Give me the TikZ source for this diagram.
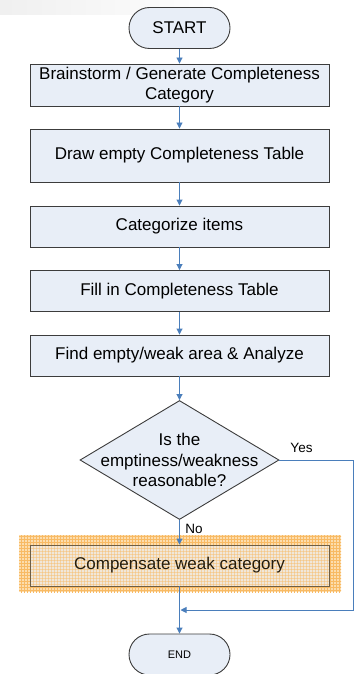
\documentclass[tikz,border=0pt]{standalone}
\usepackage{fontspec}
\setmainfont{Liberation Sans}
\usetikzlibrary{shapes.misc,shapes.geometric,arrows.meta,patterns}
\definecolor{boxfill}{HTML}{E8EEF7}
\definecolor{boxline}{HTML}{3C3C3C}
\definecolor{flow}{HTML}{4A7EBB}
\definecolor{hlfill}{HTML}{FCDDAE}
\definecolor{hlgrid}{HTML}{F8BA64}
\definecolor{hltext}{HTML}{241C0C}
\definecolor{hlline}{HTML}{6E5E44}
\tikzset{
  base/.style={draw=boxline, fill=boxfill, line width=0.9pt, align=center,
    font=\fontsize{17}{20}\selectfont, inner sep=0pt},
  stepbox/.style={base, rectangle, minimum width=299pt},
  term/.style={base, rounded rectangle, minimum width=101pt, minimum height=41pt},
  decision/.style={base, diamond, minimum width=199pt, minimum height=119pt},
  flowline/.style={draw=flow, line width=0.9pt, -{Triangle[length=6pt,width=6pt]}},
  edgelabel/.style={font=\fontsize{13.5}{16}\selectfont, inner sep=0pt},
  gridwash/.style={path picture={
    \fill[pattern=grid, pattern color=hlgrid, opacity=0.45]
      (path picture bounding box.south west) rectangle (path picture bounding box.north east);}},
}
\begin{document}
\begin{tikzpicture}[x=1pt, y=-1pt]
\useasboundingbox (0,0) rectangle (357,674);
% faint band along the top edge
\shade[left color=black!6, right color=white, shading angle=90] (0,0) rectangle (225,15);

% highlighted area behind the last step
\fill[hlfill] (19,535) rectangle (341,592);
\fill[pattern=grid, pattern color=hlgrid] (19,535) rectangle (341,592);

\node[term] (start) at (179.5,28) {START};
\node[stepbox, minimum height=42pt] (b1) at (179.5,85) {Brainstorm / Generate Completeness\\Category};
\node[stepbox, minimum height=53pt] (b2) at (179.5,155.5) {Draw empty Completeness Table};
\node[stepbox, minimum height=41pt] (b3) at (179.5,226.5) {Categorize items};
\node[stepbox, minimum height=41pt] (b4) at (179.5,291) {Fill in Completeness Table};
\node[stepbox, minimum height=41pt] (b5) at (179.5,355.5) {Find empty/weak area \& Analyze};
\node[decision] (dec) at (179.5,460) {};
\node[align=center, font=\fontsize{17}{20.5}\selectfont, inner sep=0pt] (dectext) at (179.5,460)
  {Is the\\emptiness/weakness\\reasonable?};
\node[stepbox, minimum height=41pt, fill=boxfill!60!hlfill, draw=hlline,
  text=hltext, gridwash] (b6) at (179.5,565.5) {Compensate weak category};
\node[term, font=\fontsize{11}{13}\selectfont] (end) at (179.5,654.5) {END};

\coordinate (yescorner) at (353,460);
\coordinate (yesdown) at (353,610);
\coordinate (join) at (180.5,610);

\draw[flowline] (start) -- (b1);
\draw[flowline] (b1) -- (b2);
\draw[flowline] (b2) -- (b3);
\draw[flowline] (b3) -- (b4);
\draw[flowline] (b4) -- (b5);
\draw[flowline] (b5) -- (dec.north);
\draw[flowline] (dec.south) -- (b6);
\draw[flowline] (b6) -- (end);
\draw[flowline] (dec.east) -- (yescorner) -- (yesdown) -- (join);

\node[edgelabel] (yes) at (301.5,448) {Yes};
\node[edgelabel] (no) at (194,529) {No};
\end{tikzpicture}
\end{document}
